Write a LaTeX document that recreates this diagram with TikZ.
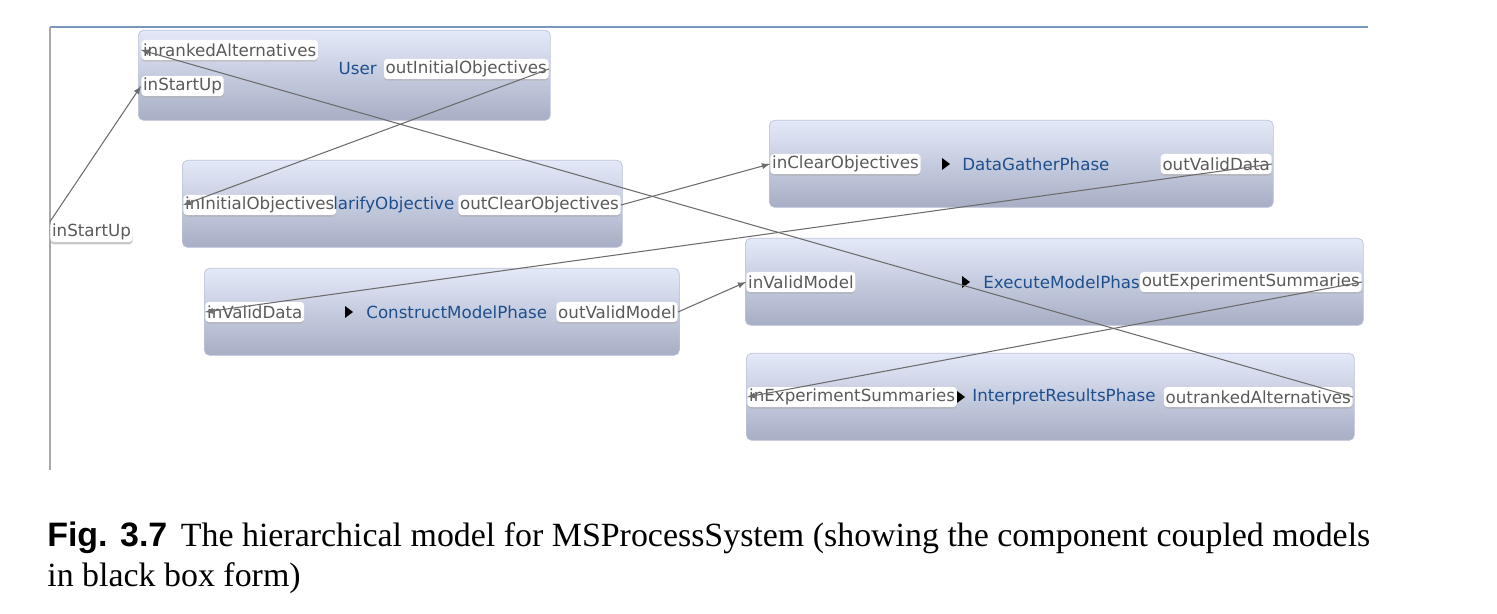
\documentclass[tikz,border=0pt]{standalone}
\usepackage{fontspec}
\setmainfont{Liberation Serif}
\newfontfamily\diagfont{DejaVu Sans}
\newfontfamily\figfont{Liberation Sans}
\usepackage{xcolor}
\usepackage{tikz}
\usetikzlibrary{shadows, positioning}

\definecolor{topline}{HTML}{7A96BC}
\definecolor{sideline}{HTML}{A8A8A8}
\definecolor{boxtop}{HTML}{E4E9F9}
\definecolor{boxbot}{HTML}{A7AEC5}
\definecolor{boxline}{HTML}{BCC3D8}
\definecolor{porttext}{HTML}{5A5A5A}
\definecolor{nametext}{HTML}{1E4F8C}
\definecolor{linkgray}{HTML}{6C6C6C}

\newcommand{\pxl}{0.02cm}
\newcommand{\runmark}[1]{\fill (#1) ++(0,-6) -- ++(8,6) -- ++(-8,6) -- cycle;}

\tikzset{
  modelbox/.style={draw=boxline, rounded corners=3pt, top color=boxtop,
    bottom color=boxbot, anchor=north west, inner sep=0pt},
  port/.style={fill=white, rounded corners=2pt, text=porttext,
    font=\diagfont\fontsize{9.5}{11}\selectfont, inner xsep=1pt, inner ysep=0pt,
    minimum height=0.4cm,
    drop shadow={shadow xshift=0pt, shadow yshift=-1pt, fill=black!30, opacity=0.6}},
  inport/.style={port, anchor=west},
  outport/.style={port, anchor=east},
  mname/.style={text=nametext, font=\diagfont\fontsize{9.5}{11}\selectfont, inner sep=0pt},
  link/.style={draw=linkgray, line width=0.6pt, ->},
}

\begin{document}
\begin{tikzpicture}[>=latex, x=0.02cm, y=-0.02cm]
    \useasboundingbox (0,0) rectangle (1497,614);

    % Rahmen
    \draw[topline, line width=1pt] (50,27) -- (1368,27);
    \draw[sideline, line width=1.2pt] (50,27) -- (50,470);
    \node[inport, drop shadow={shadow xshift=0pt, shadow yshift=-1.5pt, fill=black!25, opacity=0.5}] (sIn) at (50,232) {inStartUp};

    % User
    \node[modelbox, minimum width=412*\pxl, minimum height=90*\pxl] (user) at (138,30) {};
    \node[inport] (uRank) at (141,50) {inrankedAlternatives};
    \node[inport] (uStart) at (141,86) {inStartUp};
    \node[mname, anchor=east] (uName) at (377,69) {User};
    \node[outport] (uOut) at (549,69) {outInitialObjectives};

    % ClarifyObjective
    \node[modelbox, minimum width=440*\pxl, minimum height=87*\pxl] (clarify) at (182,160) {};
    \node[inport] (cIn) at (183,205) {inInitialObjectives};
    \node[mname, anchor=west] (cName) at (333,205) {larifyObjective};
    \node[outport] (cOut) at (621,205) {outClearObjectives};

    % ConstructModelPhase
    \node[modelbox, minimum width=475*\pxl, minimum height=87*\pxl] (construct) at (204,268) {};
    \node[inport] (kIn) at (205,312) {inValidData};
    \runmark{345,312}
    \node[mname, anchor=west] (kName) at (366,312) {ConstructModelPhase};
    \node[outport] (kOut) at (678,312) {outValidModel};

    % DataGatherPhase
    \node[modelbox, minimum width=504*\pxl, minimum height=87*\pxl] (gather) at (769,120) {};
    \node[inport] (dIn) at (770,164) {inClearObjectives};
    \runmark{942,164}
    \node[mname, anchor=west] (dName) at (962,164) {DataGatherPhase};
    \node[outport] (dOut) at (1272,164) {outValidData};

    % ExecuteModelPhase
    \node[modelbox, minimum width=618*\pxl, minimum height=87*\pxl] (execute) at (745,238) {};
    \node[inport] (eIn) at (746,282) {inValidModel};
    \runmark{962,282}
    \node[mname, anchor=west] (eName) at (983,282) {ExecuteModelPhas};
    \node[outport] (eOut) at (1362,282) {outExperimentSummaries};

    % InterpretResultsPhase
    \node[modelbox, minimum width=608*\pxl, minimum height=87*\pxl] (interpret) at (746,353) {};
    \node[inport] (iIn) at (747,397) {inExperimentSummaries};
    \runmark{957,397}
    \node[mname, anchor=west] (iName) at (972,397) {InterpretResultsPhase};
    \node[outport] (iOut) at (1353,397) {outrankedAlternatives};

    % Kopplungen
    \draw[link] (sIn.north west) -- (uStart.west);
    \draw[link] (uOut.east) -- (cIn.west);
    \draw[link] (cOut.east) -- (dIn.west);
    \draw[link] (dOut.east) -- (kIn.west);
    \draw[link] (kOut.east) -- (eIn.west);
    \draw[link] (eOut.east) -- (iIn.west);
    \draw[link] (iOut.east) -- (uRank.west);

    % Bildunterschrift
    \node[anchor=base west, inner sep=0pt, font=\fontsize{19.3}{22}\selectfont] (cap1) at (47,546)
        {{\figfont\bfseries Fig. 3.7}\hspace{0.4em}The hierarchical model for MSProcessSystem (showing the component coupled models};
    \node[anchor=base west, inner sep=0pt, font=\fontsize{19.3}{22}\selectfont] (cap2) at (47,586)
        {in black box form)};
\end{tikzpicture}
\end{document}
